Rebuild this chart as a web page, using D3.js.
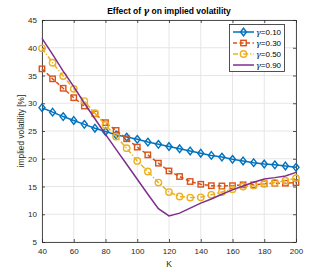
<!DOCTYPE html>
<html>
<head>
<meta charset="utf-8">
<script src="https://cdn.jsdelivr.net/npm/d3@7"></script>
<style>
  body { margin: 0; background: #fff; }
  svg { display: block; font-family: "Liberation Sans", Arial, sans-serif; }
</style>
</head>
<body>
<div id="chart"></div>
<script>
// strike grid, 25 points from 40 to 200
var strikes = [40, 46.67, 53.33, 60, 66.67, 73.33, 80, 86.67, 93.33, 100, 106.67, 113.33,
               120, 126.67, 133.33, 140, 146.67, 153.33, 160, 166.67, 173.33, 180, 186.67, 193.33, 200];

var vol010 = [29.2, 28.4, 27.6, 26.9, 26.2, 25.5, 24.9, 24.3, 23.9, 23.5, 23.0, 22.6,
              22.2, 21.8, 21.4, 21.0, 20.6, 20.3, 19.9, 19.6, 19.3, 19.05, 18.9, 18.7, 18.45];
var vol030 = [36.2, 34.4, 32.7, 31.0, 29.5, 28.1, 26.5, 25.1, 23.6, 22.1, 20.7, 19.2,
              17.8, 16.8, 15.9, 15.4, 15.15, 15.1, 15.15, 15.3, 15.3, 15.5, 15.6, 15.6, 15.7];
var vol050 = [39.9, 37.3, 34.9, 32.6, 30.4, 28.2, 26.1, 24.0, 21.9, 19.6, 17.7, 15.7,
              14.0, 13.2, 13.0, 13.05, 13.5, 14.0, 14.5, 15.0, 15.2, 15.5, 15.7, 16.05, 16.5];
var vol090 = [41.7, 38.8, 35.8, 33.0, 30.0, 27.2, 24.4, 21.7, 19.0, 16.3, 13.6, 11.0,
              9.7, 10.2, 11.1, 12.0, 12.75, 13.6, 14.4, 15.1, 15.75, 16.35, 16.6, 16.9, 17.55];

var xTicks = [40, 60, 80, 100, 120, 140, 160, 180, 200];
var yTicks = [5, 10, 15, 20, 25, 30, 35, 40, 45];
var seriesNames = ["0.10", "0.30", "0.50", "0.90"];

var series = [
  { name: seriesNames[0], vals: vol010, color: "#0072BD", dash: null, marker: "diamond" },
  { name: seriesNames[1], vals: vol030, color: "#D95319", dash: "4,2.5", marker: "square" },
  { name: seriesNames[2], vals: vol050, color: "#EDB120", dash: "5,2,1.2,2", marker: "circle" },
  { name: seriesNames[3], vals: vol090, color: "#7E2F8E", dash: null, marker: null }
];

var W = 327, H = 272;
var mLeft = 42, mRight = 296, mTop = 20, mBottom = 242;

var svg = d3.select("#chart").append("svg")
    .attr("width", W)
    .attr("height", H);

var x = d3.scaleLinear().domain([40, 200]).range([mLeft, mRight]);
var y = d3.scaleLinear().domain([5, 45]).range([mBottom, mTop]);

// grid
svg.append("g").selectAll("line.gx")
    .data(xTicks)
  .enter().append("line")
    .attr("x1", function (d) { return x(d); })
    .attr("x2", function (d) { return x(d); })
    .attr("y1", mTop).attr("y2", mBottom)
    .attr("stroke", "#e6e6e6").attr("stroke-width", 1);
svg.append("g").selectAll("line.gy")
    .data(yTicks)
  .enter().append("line")
    .attr("y1", function (d) { return y(d); })
    .attr("y2", function (d) { return y(d); })
    .attr("x1", mLeft).attr("x2", mRight)
    .attr("stroke", "#e6e6e6").attr("stroke-width", 1);

// axes, matlab style ticks inward
var axCol = "#262626";
var xAxis = svg.append("g")
    .attr("transform", "translate(0," + mBottom + ")")
    .call(d3.axisBottom(x).tickValues(xTicks).tickSizeInner(-3).tickSizeOuter(0).tickPadding(6));
var xAxisTop = svg.append("g")
    .attr("transform", "translate(0," + mTop + ")")
    .call(d3.axisTop(x).tickValues(xTicks).tickSizeInner(-3).tickSizeOuter(0).tickFormat(""));
var yAxis = svg.append("g")
    .attr("transform", "translate(" + mLeft + ",0)")
    .call(d3.axisLeft(y).tickValues(yTicks).tickSizeInner(-3).tickSizeOuter(0).tickPadding(5));
var yAxisRight = svg.append("g")
    .attr("transform", "translate(" + mRight + ",0)")
    .call(d3.axisRight(y).tickValues(yTicks).tickSizeInner(-3).tickSizeOuter(0).tickFormat(""));

[xAxis, xAxisTop, yAxis, yAxisRight].forEach(function (g) {
  g.select(".domain").attr("stroke", axCol).attr("stroke-width", 0.8);
  g.selectAll(".tick line").attr("stroke", axCol).attr("stroke-width", 0.8);
  g.selectAll("text").attr("fill", axCol).attr("font-size", 8)
    .attr("font-family", "Liberation Sans, Arial, sans-serif");
});

var line = d3.line()
    .x(function (d, i) { return x(strikes[i]); })
    .y(function (d) { return y(d); });

function drawMarker(g, type, cx, cy, color) {
  if (type === "diamond") {
    g.append("path")
      .attr("d", "M" + cx + "," + (cy - 3.8) + "L" + (cx + 3) + "," + cy + "L" + cx + "," + (cy + 3.8) + "L" + (cx - 3) + "," + cy + "Z")
      .attr("fill", "none").attr("stroke", color).attr("stroke-width", 1.4);
  } else if (type === "square") {
    g.append("rect")
      .attr("x", cx - 2.7).attr("y", cy - 2.7).attr("width", 5.4).attr("height", 5.4)
      .attr("fill", "none").attr("stroke", color).attr("stroke-width", 1.4);
  } else if (type === "circle") {
    g.append("circle")
      .attr("cx", cx).attr("cy", cy).attr("r", 3.2)
      .attr("fill", "none").attr("stroke", color).attr("stroke-width", 1.4);
  }
}

var plot = svg.append("g");
series.forEach(function (s) {
  plot.append("path")
    .datum(s.vals)
    .attr("d", line)
    .attr("fill", "none")
    .attr("stroke", s.color)
    .attr("stroke-width", 1.5)
    .attr("stroke-dasharray", s.dash);
  if (s.marker) {
    var mg = plot.append("g");
    s.vals.forEach(function (v, i) {
      drawMarker(mg, s.marker, x(strikes[i]), y(v), s.color);
    });
  }
});

// legend
var lg = svg.append("g");
lg.append("rect")
  .attr("x", 229.5).attr("y", 24.5).attr("width", 55).attr("height", 47)
  .attr("fill", "#fff").attr("stroke", "#262626").attr("stroke-width", 0.8);
series.forEach(function (s, i) {
  var ly = 32 + i * 11;
  lg.append("line")
    .attr("x1", 233).attr("x2", 254).attr("y1", ly).attr("y2", ly)
    .attr("stroke", s.color).attr("stroke-width", 1.5)
    .attr("stroke-dasharray", s.dash);
  if (s.marker) drawMarker(lg, s.marker, 243.5, ly, s.color);
  var t = lg.append("text")
    .attr("x", 256).attr("y", ly + 3)
    .attr("font-size", 8).attr("fill", "#000");
  t.append("tspan").attr("font-family", "DejaVu Serif, serif").attr("font-style", "italic").text("γ");
  t.append("tspan").text("=" + s.name);
});

// title
var title = svg.append("text")
  .attr("x", (mLeft + mRight) / 2).attr("y", 14)
  .attr("text-anchor", "middle")
  .attr("font-size", 8.5).attr("font-weight", "bold").attr("fill", "#000");
title.append("tspan").text("Effect of ");
title.append("tspan").attr("font-family", "DejaVu Serif, serif").attr("font-style", "italic").text("γ");
title.append("tspan").text(" on implied volatility");

// axis labels
svg.append("text")
  .attr("x", (mLeft + mRight) / 2).attr("y", 267)
  .attr("text-anchor", "middle")
  .attr("font-size", 8.5).attr("fill", axCol)
  .text("K");
svg.append("text")
  .attr("transform", "translate(24," + ((mTop + mBottom) / 2) + ") rotate(-90)")
  .attr("text-anchor", "middle")
  .attr("font-size", 8.3).attr("fill", axCol)
  .text("implied volatility [%]");
</script>
</body>
</html>
